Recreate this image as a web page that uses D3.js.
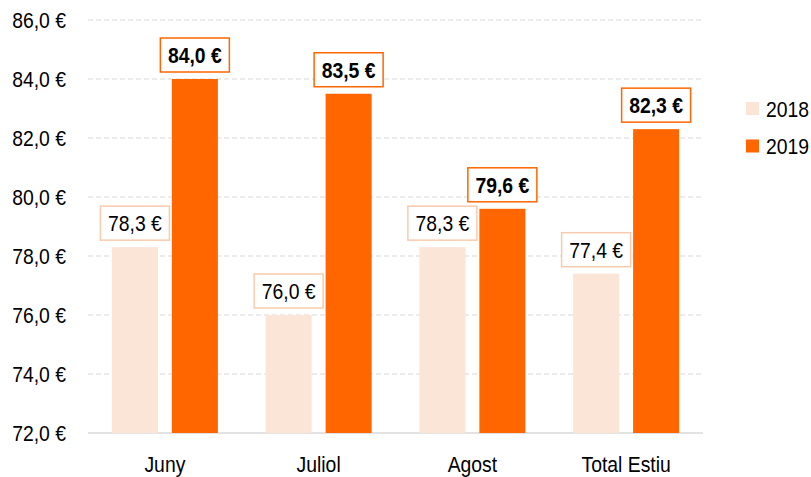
<!DOCTYPE html>
<html>
<head>
<meta charset="utf-8">
<script src="https://cdn.jsdelivr.net/npm/d3@7"></script>
<style>
  body { margin: 0; background: #fff; }
  svg text { font-family: "Liberation Sans", Arial, sans-serif; fill: #000; }
</style>
</head>
<body>
<div id="chart"></div>
<script>
// Chart data
var categories = ["Juny", "Juliol", "Agost", "Total Estiu"];
var series = ["2018", "2019"];
var values2018 = [78.3, 76.0, 78.3, 77.4];
var values2019 = [84.0, 83.5, 79.6, 82.3];
var yTicks = [72, 74, 76, 78, 80, 82, 84, 86];

var width = 811,
    height = 477;

var colors = { "2018": "#fbe5d6", "2019": "#ff6600" };
var borders = { "2018": "#f8cbad", "2019": "#ff6600" };

// narrow font look (the original uses a condensed face)
var squeeze = "scale(0.88,1)";

var svg = d3.select("#chart").append("svg")
    .attr("width", width)
    .attr("height", height);

// Scales
var x0 = d3.scaleBand().domain(categories).range([88, 703]);
var x1 = d3.scaleBand().domain(series)
    .range([0, x0.bandwidth()])
    .paddingInner(0.233)
    .paddingOuter(0.398);
var y = d3.scaleLinear().domain([72, 86]).range([433, 20]);

var fmt = function(v) { return d3.format(".1f")(v).replace(".", ",") + " €"; };

// Gridlines
svg.append("g").selectAll("line")
    .data(yTicks.slice(1))
    .enter().append("line")
    .attr("x1", 88).attr("x2", 703)
    .attr("y1", function(d) { return y(d); })
    .attr("y2", function(d) { return y(d); })
    .style("stroke", "#d9d9d9")
    .style("stroke-width", 1)
    .style("stroke-dasharray", "5,3");

// Y axis labels
var yAxis = d3.axisLeft(y).tickValues(yTicks).tickSize(0).tickPadding(0).tickFormat(fmt);
svg.append("g")
    .attr("transform", "translate(66,0)")
    .call(yAxis)
    .call(function(g) { g.select(".domain").remove(); })
    .selectAll("text")
    .attr("x", 0)
    .attr("transform", squeeze)
    .style("font-size", "22px")
    .attr("dy", "0.36em");

// Baseline
svg.append("line")
    .attr("x1", 88).attr("x2", 703)
    .attr("y1", y(72)).attr("y2", y(72))
    .style("stroke", "#d9d9d9")
    .style("stroke-width", 1.5);

// Category labels
var xAxis = d3.axisBottom(x0).tickSize(0).tickPadding(0);
svg.append("g")
    .attr("transform", "translate(0,472)")
    .call(xAxis)
    .call(function(g) { g.select(".domain").remove(); })
    .selectAll("text")
    .attr("y", 0)
    .attr("dy", 0)
    .attr("transform", squeeze)
    .style("font-size", "22px");

// Bars and value boxes
var rows = [];
categories.forEach(function(c, i) {
    rows.push({ cat: c, s: "2018", v: values2018[i] });
    rows.push({ cat: c, s: "2019", v: values2019[i] });
});

var groups = svg.append("g").selectAll("g")
    .data(rows)
    .enter().append("g")
    .attr("transform", function(d) { return "translate(" + (x0(d.cat) + x1(d.s)) + ",0)"; });

groups.append("rect")
    .attr("x", 0)
    .attr("width", x1.bandwidth())
    .attr("y", function(d) { return y(d.v); })
    .attr("height", function(d) { return y(72) - y(d.v); })
    .style("fill", function(d) { return colors[d.s]; });

var boxW = 69, boxH = 34, gap = 7;
groups.append("rect")
    .attr("x", x1.bandwidth() / 2 - boxW / 2)
    .attr("y", function(d) { return y(d.v) - gap - boxH; })
    .attr("width", boxW)
    .attr("height", boxH)
    .style("fill", "#fff")
    .style("stroke", function(d) { return borders[d.s]; })
    .style("stroke-width", 1.5);

groups.append("text")
    .attr("transform", function(d) {
        return "translate(" + (x1.bandwidth() / 2) + "," + (y(d.v) - gap - boxH / 2) + ") " + squeeze;
    })
    .attr("dy", "0.36em")
    .style("text-anchor", "middle")
    .style("font-size", "22px")
    .style("font-weight", function(d) { return d.s == "2019" ? "bold" : "normal"; })
    .text(function(d) { return fmt(d.v); });

// Legend
var legend = svg.append("g").selectAll("g")
    .data(series)
    .enter().append("g")
    .attr("transform", function(d, i) { return "translate(746," + (102 + i * 37.5) + ")"; });

legend.append("rect")
    .attr("width", 13).attr("height", 13)
    .style("fill", function(d) { return colors[d]; });

legend.append("text")
    .attr("transform", "translate(20,14.5) " + squeeze)
    .style("font-size", "22px")
    .text(function(d) { return d; });
</script>
</body>
</html>
